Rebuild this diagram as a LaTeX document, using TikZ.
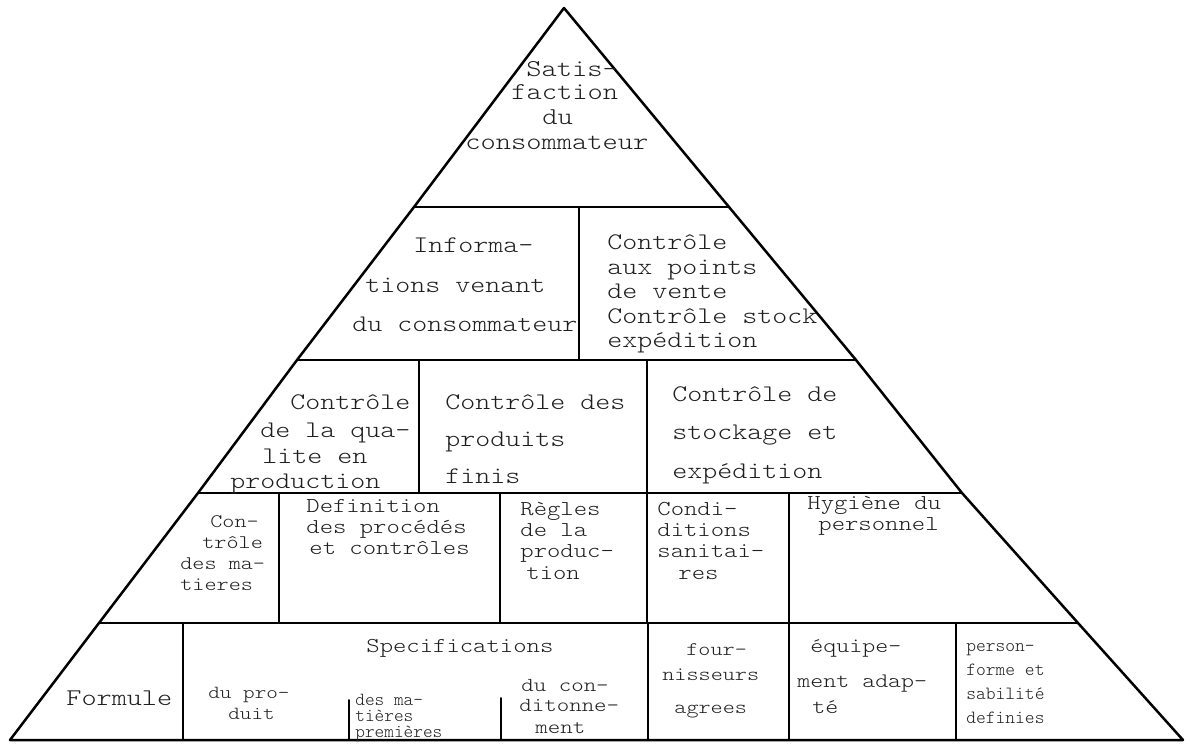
\documentclass[tikz,border=0pt]{standalone}
\usepackage{fontspec}
% typewriter face, widened a little so the letters have the pica proportions
\newfontfamily\twfam{lmmonolt10-regular}[Extension=.otf, FakeStretch=1.2]
\newfontfamily\twnfam{lmmonolt10-regular}[Extension=.otf]
\newcommand\twf[1]{\twfam\fontsize{#1}{#1}\selectfont}
\newcommand\twn[1]{\twnfam\fontsize{#1}{#1}\selectfont}

% one text line per node: entries are x/baseline/text
\newcommand\cell[3][]{%
  \foreach \cx/\cy/\ct [count=\ck] in {#3}
    \node[txt,#1] (#2-\ck) at (\cx,\cy) {\ct};
}

\begin{document}
\begin{tikzpicture}[x=0.5pt, y=-0.5pt,
  edge/.style={line width=1.25pt, line join=round, line cap=round},
  rule/.style={line width=1pt, line cap=round},
  txt/.style={anchor=base west, inner sep=0pt, text=black!88, font=\twf{11.9pt}},
  small/.style={font=\twf{10.6pt}}]

\fill[white] (0,0) rectangle (1191,744);
\useasboundingbox (0,0) rectangle (1191,744);

% outline of the pyramid
\coordinate (A)  at (564,8);
\coordinate (R1) at (729,207);
\coordinate (R2) at (856,360);
\coordinate (R3) at (962,493);
\coordinate (R4) at (1078,623);
\coordinate (BR) at (1183,740);
\coordinate (BL) at (10,740);
\coordinate (L4) at (99,623);
\coordinate (L3) at (198,493);
\coordinate (L2) at (297,360);
\coordinate (L1) at (414,207);

\draw[edge] (A) -- (R1) -- (R2) -- (R3) -- (R4) -- (BR) -- (BL)
  -- (L4) -- (L3) -- (L2) -- (L1) -- cycle;

% floors
\draw[rule] (L1) -- (R1);
\draw[rule] (L2) -- (R2);
\draw[rule] (L3) -- (R3);
\draw[rule] (L4) -- (R4);

% partitions, floor 2
\draw[rule] (579,207) -- (579,360);
% floor 3
\draw[rule] (419,360) -- (419,493);
\draw[rule] (647,360) -- (647,493);
% floor 4
\draw[rule] (279,493) -- (279,623);
\draw[rule] (500,493) -- (500,623);
\draw[rule] (647,493) -- (647,623);
\draw[rule] (789,493) -- (789,623);
% floor 5
\draw[rule] (183,623) -- (183,740);
\draw[rule] (648,623) -- (648,740);
\draw[rule] (789,623) -- (789,740);
\draw[rule] (956,623) -- (956,740);
\draw[rule] (349,700) -- (349,740);
\draw[rule] (501,698) -- (501,740);

% top
\cell[font=\twf{12.1pt}]{sat}{526/76/Satis-, 511/99/faction, 542/124/du, 465/149/consommateur}

% floor 2
\cell{info}{413/252/Informa-, 365/292/tions venant, 352/331/du consommateur}
\cell{vente}{607/249/Contrôle, 607/274/aux points, 607/298/de vente, 607/323/Contrôle stock, 607/347/expédition}

% floor 3
\cell{qual}{290/409/Contrôle, 260/437/de la qua-, 262/463/lite en, 230/488/production}
\cell{finis}{445/409/Contrôle des, 445/446/produits, 445/483/finis}
\cell{stock}{672/401/Contrôle de, 672/439/stockage et, 672/478/expédition}

% floor 4
\cell[font=\twf{9.6pt}]{mat}{210/527/Con-, 202/548/trôle, 180/569/des ma-, 180/590/tieres}
\cell[small]{def}{306/512/Definition, 306/533/des procédés, 309/554/et contrôles}
\cell[small]{regl}{520/515/Règles, 520/536/de la, 520/557/produc-, 526/579/tion}
\cell[small]{cond}{657/515/Condi-, 657/536/ditions, 657/557/sanitai-, 678/579/res}
\cell[small]{hyg}{807/509/Hygiène du, 818/530/personnel}

% floor 5
\cell[font=\twf{12pt}]{form}{66/705/Formule}
\cell[font=\twf{10.6pt}]{spec}{366/652/Specifications}
\cell[font=\twf{9.2pt}]{prod}{208/698/du pro-, 228/719/duit}
\cell[font=\twn{9.2pt}]{prem}{355/705/des ma-, 355/721/tières, 355/737/premières}
\cell[font=\twf{9.9pt}]{cdt}{521/691/du con-, 519/711/ditonne-, 535/733/ment}
\cell[font=\twf{9.6pt}]{four}{686/655/four-, 662/680/nisseurs, 674/713/agrees}
\cell[font=\twf{10.3pt}]{equ}{810/652/équipe-, 797/687/ment adap-, 812/713/té}
\cell[font=\twn{9.3pt}]{pers}{966/651/person-, 966/675/forme et, 966/699/sabilité, 966/723/definies}

\end{tikzpicture}
\end{document}
